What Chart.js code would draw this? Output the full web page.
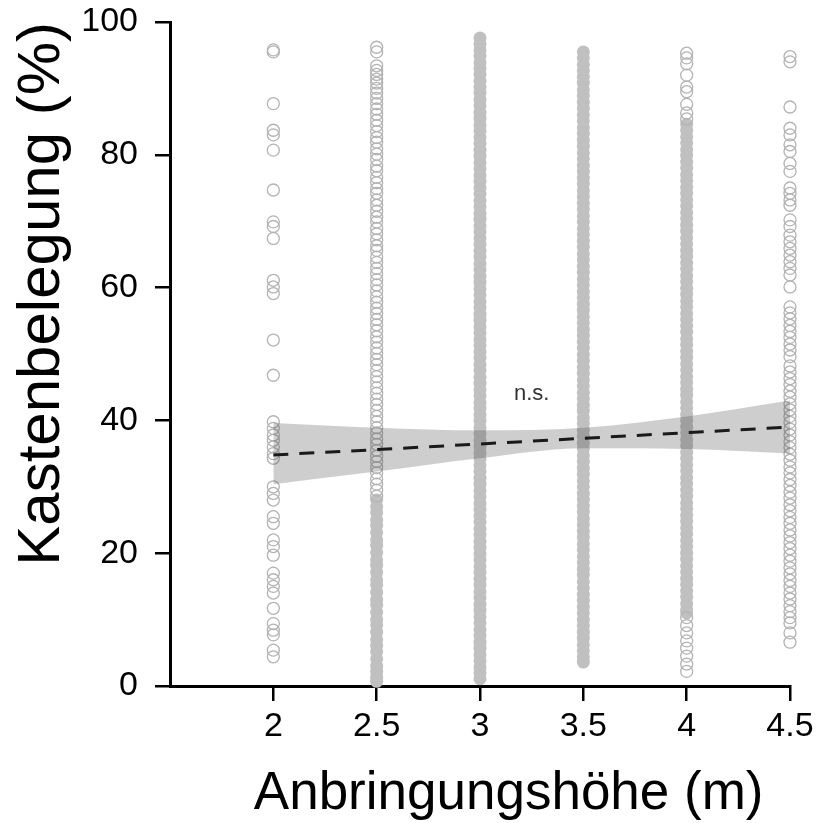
<!DOCTYPE html>
<html>
<head>
<meta charset="utf-8">
<script src="https://cdn.jsdelivr.net/npm/chart.js@4.4.1/dist/chart.umd.min.js"></script>
<style>
  html, body { margin: 0; padding: 0; background: #fff; }
  #wrap { width: 823px; height: 823px; }
</style>
</head>
<body>
<div id="wrap"><canvas id="chart" width="823" height="823"></canvas></div>
<script>
// x ticks (mounting height, m)
const xTicks = [2, 2.5, 3, 3.5, 4, 4.5];
const yTicks = [0, 20, 40, 60, 80, 100];

// occupancy per mounting height (%)
// "open" = visible single rings, "dense" = columns so crowded they look solid
const occ2 = [95.5, 95.8, 87.7, 83.7, 83.0, 80.7, 74.7, 69.9, 69.2, 67.4, 61.1, 60.1, 59.1, 52.1, 46.8,
  39.8, 38.8, 37.8, 37.0, 36.0, 35.0, 34.3, 30.0, 29.0, 28.0, 25.5, 24.5, 22.0, 21.0, 19.7,
  17.0, 16.0, 15.0, 14.0, 11.7, 9.4, 8.4, 7.7, 5.4, 4.4];

const occ25Open = [96.2, 95.5, 93.4, 92.7, 92.1, 91.4, 90.8, 90.0, 89.3, 88.5, 87.7, 86.9, 86.1, 85.2,
  84.4, 83.5, 82.6, 81.9, 80.9, 80.1, 79.3, 78.3, 77.6, 76.6, 75.8, 74.9, 74.2, 73.2, 72.4, 71.5,
  70.6, 69.9, 68.9, 68.1, 67.2, 66.3, 65.6, 64.6, 63.8, 62.9, 62.1, 61.2, 60.4, 59.5, 58.6, 57.8,
  56.9, 56.1, 55.2, 54.4, 53.5, 52.6, 51.8, 50.9, 50.1, 49.2, 48.4, 47.5, 46.6, 45.8, 44.9, 44.1,
  43.2, 42.4, 41.5, 40.6, 39.8, 38.9, 38.1, 37.2, 36.4, 35.5, 34.6, 33.8, 32.9, 32.1, 31.2, 30.4,
  29.5, 28.6];
const occ25Dense = [28.0, 27.0, 26.1, 25.0, 24.2, 23.1, 22.0, 21.2, 20.1, 19.0, 18.2, 17.1, 16.0,
  15.2, 14.1, 13.0, 12.2, 11.1, 10.0, 9.2, 8.1, 7.0, 6.1, 5.2, 4.1, 3.0, 2.2, 1.3, 0.7];

const occ3Dense = [97.6, 96.7, 95.8, 94.9, 93.9, 93.0, 92.1, 91.1, 90.2, 89.3, 88.3, 87.4, 86.4, 85.5,
  84.5, 83.6, 82.6, 81.7, 80.7, 79.8, 78.8, 77.9, 76.9, 76.0, 75.0, 74.1, 73.1, 72.2, 71.2, 70.3,
  69.3, 68.4, 67.4, 66.5, 65.5, 64.6, 63.6, 62.7, 61.7, 60.8, 59.8, 58.9, 57.9, 57.0, 56.0, 55.1,
  54.1, 53.2, 52.2, 51.3, 50.3, 49.4, 48.4, 47.5, 46.5, 45.6, 44.6, 43.7, 42.7, 41.8, 40.8, 39.9,
  38.9, 38.0, 37.0, 36.1, 35.1, 34.2, 33.2, 32.3, 31.3, 30.4, 29.4, 28.5, 27.5, 26.6, 25.6, 24.7,
  23.7, 22.8, 21.8, 20.9, 19.9, 19.0, 18.0, 17.1, 16.1, 15.2, 14.2, 13.3, 12.3, 11.4, 10.4, 9.5,
  8.5, 7.6, 6.6, 5.7, 4.7, 3.8, 2.8, 2.0, 1.1];

const occ35Dense = [95.5, 94.6, 93.6, 92.7, 91.7, 90.8, 89.8, 88.9, 87.9, 87.0, 86.0, 85.1, 84.1, 83.2,
  82.2, 81.3, 80.3, 79.4, 78.4, 77.5, 76.5, 75.6, 74.6, 73.7, 72.7, 71.8, 70.8, 69.9, 68.9, 68.0,
  67.0, 66.1, 65.1, 64.2, 63.2, 62.3, 61.3, 60.4, 59.4, 58.5, 57.5, 56.6, 55.6, 54.7, 53.7, 52.8,
  51.8, 50.9, 49.9, 49.0, 48.0, 47.1, 46.1, 45.2, 44.2, 43.3, 42.3, 41.4, 40.4, 39.5, 38.5, 37.6,
  36.6, 35.7, 34.7, 33.8, 32.8, 31.9, 30.9, 30.0, 29.0, 28.1, 27.1, 26.2, 25.2, 24.3, 23.3, 22.4,
  21.4, 20.5, 19.5, 18.6, 17.6, 16.7, 15.7, 14.8, 13.8, 12.9, 11.9, 11.0, 10.0, 9.1, 8.1, 7.2,
  6.2, 5.3, 4.4, 3.6];

const occ4Open = [95.3, 94.6, 93.7, 92.0, 90.2, 89.5, 87.6, 86.3, 85.4,
  10.3, 9.1, 8.0, 6.8, 5.7, 4.5, 3.3, 2.2];
const occ4Dense = [84.6, 83.7, 82.7, 81.8, 80.8, 79.9, 78.9, 78.0, 77.0, 76.1, 75.1, 74.2, 73.2, 72.3,
  71.3, 70.4, 69.4, 68.5, 67.5, 66.6, 65.6, 64.7, 63.7, 62.8, 61.8, 60.9, 59.9, 59.0, 58.0, 57.1,
  56.1, 55.2, 54.2, 53.3, 52.3, 51.4, 50.4, 49.5, 48.5, 47.6, 46.6, 45.7, 44.7, 43.8, 42.8, 41.9,
  40.9, 40.0, 39.0, 38.1, 37.1, 36.2, 35.2, 34.3, 33.3, 32.4, 31.4, 30.5, 29.5, 28.6, 27.6, 26.7,
  25.7, 24.8, 23.8, 22.9, 21.9, 21.0, 20.0, 19.1, 18.1, 17.2, 16.2, 15.3, 14.3, 13.4, 12.4, 11.5, 11.0];

const occ45Open = [94.8, 94.0, 87.2, 84.0, 83.0, 81.5, 80.5, 78.7, 77.5, 75.0, 74.2, 73.2, 72.4,
  70.2, 69.2, 67.9, 66.9, 65.9, 64.9, 63.9, 62.9, 61.9, 60.1, 57.1, 56.2, 55.3, 54.3, 53.4, 52.5,
  51.5, 50.6, 49.6, 48.2, 47.3, 46.3, 45.4, 44.4, 43.5, 42.5, 41.6, 40.6, 39.7, 38.7, 37.8, 36.8,
  35.9, 34.9, 34.0, 33.0, 32.1, 31.1, 30.2, 29.2, 28.3, 27.3, 26.4, 25.4, 24.5, 23.5, 22.6, 21.6,
  20.7, 19.7, 18.8, 17.8, 16.9, 15.9, 15.0, 14.0, 13.1, 12.1, 11.2, 10.3, 9.5, 8.0, 6.6];

// regression line (n.s.) with its confidence band
const fitX = [2, 2.5, 3, 3.5, 4, 4.5];
const fitY = [34.8, 35.6, 36.45, 37.3, 38.15, 39.0];
const ciUpper = [39.6, 38.9, 38.5, 38.9, 40.6, 43.0];
const ciLower = [30.4, 32.3, 34.3, 35.8, 35.7, 35.0];

const sigLabel = { x: 3.25, y: 44, text: "n.s." };

const ringColor = "#b3b3b3";
const denseColor = "#c0c0c0";

const col = (x, ys) => ys.map(y => ({ x, y }));
const xy = (ys) => fitX.map((x, i) => ({ x, y: ys[i] }));

function openSet(x, ys) {
  return {
    type: "scatter", data: col(x, ys), order: 3, clip: false,
    pointRadius: 6, pointBorderWidth: 1.3,
    pointBorderColor: ringColor, pointBackgroundColor: "rgba(0,0,0,0)"
  };
}
function denseSet(x, ys) {
  return {
    type: "scatter", data: col(x, ys), order: 3, clip: false,
    pointRadius: 6.5, pointBorderWidth: 0,
    pointBorderColor: denseColor, pointBackgroundColor: denseColor
  };
}

// text label "n.s." above the line
const labelPlugin = {
  id: "sigLabel",
  afterDatasetsDraw(chart) {
    const { ctx, scales } = chart;
    ctx.save();
    ctx.font = "22px 'Liberation Sans', Arial, sans-serif";
    ctx.fillStyle = "#333";
    ctx.textAlign = "center";
    ctx.textBaseline = "middle";
    ctx.fillText(sigLabel.text, scales.x.getPixelForValue(sigLabel.x), scales.y.getPixelForValue(sigLabel.y));
    ctx.restore();
  }
};

Chart.defaults.font.family = "'Liberation Sans', Arial, sans-serif";
Chart.defaults.color = "#000";

new Chart(document.getElementById("chart"), {
  type: "scatter",
  data: {
    datasets: [
      {
        type: "line", data: xy(fitY), order: 0,
        borderColor: "#1a1a1a", borderWidth: 3, borderDash: [15, 11],
        pointRadius: 0, fill: false
      },
      {
        type: "line", data: xy(ciUpper), order: 1,
        borderWidth: 0, borderColor: "rgba(0,0,0,0)", pointRadius: 0,
        cubicInterpolationMode: "monotone",
        fill: "+1", backgroundColor: "rgba(60,60,60,0.25)"
      },
      {
        type: "line", data: xy(ciLower), order: 2,
        borderWidth: 0, borderColor: "rgba(0,0,0,0)", pointRadius: 0,
        cubicInterpolationMode: "monotone", fill: false
      },
      openSet(2, occ2),
      openSet(2.5, occ25Open),
      denseSet(2.5, occ25Dense),
      denseSet(3, occ3Dense),
      denseSet(3.5, occ35Dense),
      openSet(4, occ4Open),
      denseSet(4, occ4Dense),
      openSet(4.5, occ45Open)
    ]
  },
  options: {
    responsive: false,
    animation: false,
    events: [],
    layout: { padding: { top: 22, right: 33, left: 0, bottom: 0 } },
    plugins: { legend: { display: false }, tooltip: { enabled: false } },
    scales: {
      x: {
        type: "linear", min: 1.5, max: 4.5,
        afterBuildTicks: s => { s.ticks = xTicks.map(v => ({ value: v })); },
        afterFit: s => { s.height = 137; },
        ticks: { font: { size: 34 }, padding: 5, maxRotation: 0, autoSkip: false, callback: v => String(v) },
        grid: { drawOnChartArea: false, drawTicks: true, tickLength: 15, color: "#000", lineWidth: 2.5 },
        border: { display: true, color: "#000", width: 3 },
        title: {
          display: true, text: "Anbringungshöhe (m)\u2002", color: "#000", align: "end",
          font: { size: 53, lineHeight: 1 }, padding: { top: 0, bottom: 2 }
        }
      },
      y: {
        min: 0, max: 100,
        afterBuildTicks: s => { s.ticks = yTicks.map(v => ({ value: v })); },
        afterFit: s => { s.width = 170; s.paddingTop = 0; s.paddingBottom = 0; },
        ticks: { font: { size: 34 }, padding: 17 },
        grid: { drawOnChartArea: false, drawTicks: true, tickLength: 15, color: "#000", lineWidth: 2.5 },
        border: { display: true, color: "#000", width: 3 },
        title: {
          display: true, text: "Kastenbelegung (%)", color: "#000", align: "end",
          font: { size: 60, lineHeight: 1 }, padding: { top: 12, bottom: 0 }
        }
      }
    }
  },
  plugins: [labelPlugin]
});
</script>
</body>
</html>
